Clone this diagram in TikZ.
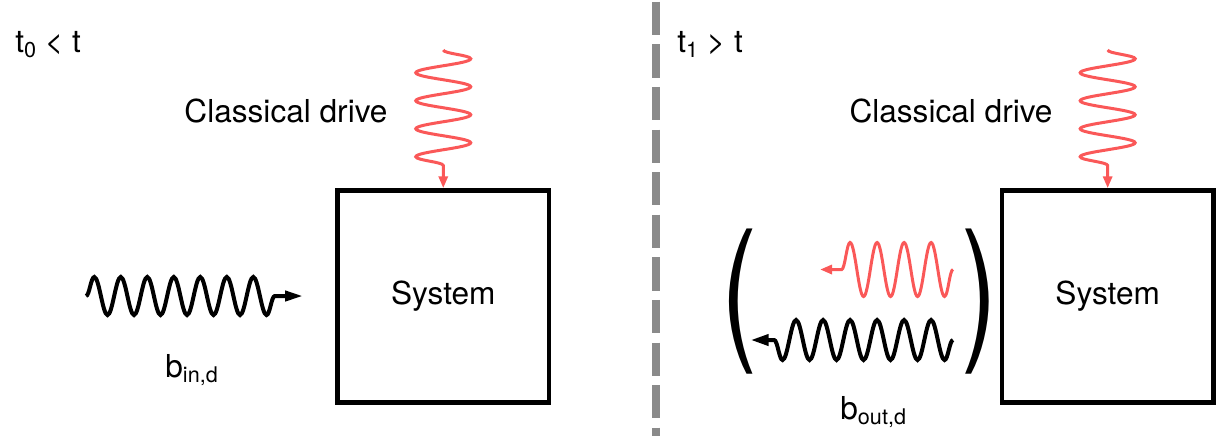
\documentclass[tikz,border=0pt]{standalone}
\usepackage{fontspec}
\setmainfont{TeX Gyre Heros}
\usetikzlibrary{arrows.meta,decorations.pathmorphing,positioning}

\definecolor{drivered}{RGB}{250,88,88}
\definecolor{divgray}{RGB}{138,138,138}

\newcommand{\lowidx}[1]{\raisebox{-2.5pt}{\fontsize{10.8}{12}\selectfont #1}}

\begin{document}
\begin{tikzpicture}[
    x=0.5pt, y=-0.5pt,
    font=\fontsize{15.8}{19}\selectfont,
    sysbox/.style={draw, line width=2.25pt, minimum width=105.75pt,
                   minimum height=106pt, inner sep=0pt},
    lbl/.style={inner sep=0pt, anchor=base west},
    drvlbl/.style={inner sep=0pt, anchor=base},
    bigparen/.style={inner sep=0pt, font=\fontsize{77.2}{80}\selectfont},
    divider/.style={divgray, line width=4pt,
                    dash pattern=on 16.65pt off 4.65pt, dash phase=20.45pt},
    wavein/.style={line width=2pt, -{Triangle[length=9pt,width=5pt]},
                   decorate, decoration={snake, segment length=13.25pt,
                   amplitude=9.5pt, post length=13.1pt}},
    drive/.style={drivered, line width=1.5pt, -{Triangle[length=6pt,width=4.5pt]},
                  decorate, decoration={snake, segment length=14pt,
                  amplitude=13.75pt, post length=10.3pt}},
    echo/.style={drivered, line width=1.5pt, -{Triangle[length=6pt,width=4.5pt]},
                 decorate, decoration={snake, segment length=13.5pt,
                 amplitude=13.5pt, post length=9.8pt}},
    waveout/.style={line width=2pt, -{Triangle[length=9pt,width=5.5pt]},
                    decorate, decoration={snake, segment length=13.5pt,
                    amplitude=10pt, post length=10.7pt}}
  ]
  \useasboundingbox (0,0) rectangle (1218,436);

  % ========= divider between the two times =========
  \coordinate (divtop) at (656,0);
  \coordinate (divbot) at (656,436);
  \draw[divider] (divtop) -- (divbot);

  % ========= left panel: before t =========
  \node[lbl] (t0lbl) at (15,52) {t\lowidx{0} < t};
  \node[sysbox] (sysL) at (443.25,296.5) {System};
  \node[drvlbl] (cdL) at (286,122) {Classical drive};

  \coordinate (drvL) at (443.25,50);
  \draw[drive] (drvL) -- (sysL.north);

  \coordinate (inStart) at (86,296);
  \coordinate (inTip) at (303,296);
  \draw[wavein] (inStart) -- (inTip);
  \node[lbl] (binlbl) at (165,377) {b\lowidx{in,d}};

  % ========= right panel: after t =========
  \node[lbl] (t1lbl) at (677,52) {t\lowidx{1} > t};
  \node[sysbox] (sysR) at (1107.65,296.5) {System};
  \node[drvlbl] (cdR) at (951,122) {Classical drive};

  \coordinate (drvR) at (1107.65,50);
  \draw[drive] (drvR) -- (sysR.north);

  % reflected drive and output field, grouped in brackets
  \node[bigparen] (lpar) at (739.5,301.5) {\scalebox{0.7}[1]{(}};
  \node[bigparen] (rpar) at (979,301.5) {\scalebox{0.7}[1]{)}};

  \coordinate (echoStart) at (953,269.5);
  \coordinate (echoTip) at (820,269.5);
  \draw[echo] (echoStart) -- (echoTip);

  \coordinate (outStart) at (953,340);
  \coordinate (outTip) at (750.7,340);
  \draw[waveout] (outStart) -- (outTip);
  \node[lbl] (boutlbl) at (840,419.3) {b\lowidx{out,d}};

\end{tikzpicture}
\end{document}
